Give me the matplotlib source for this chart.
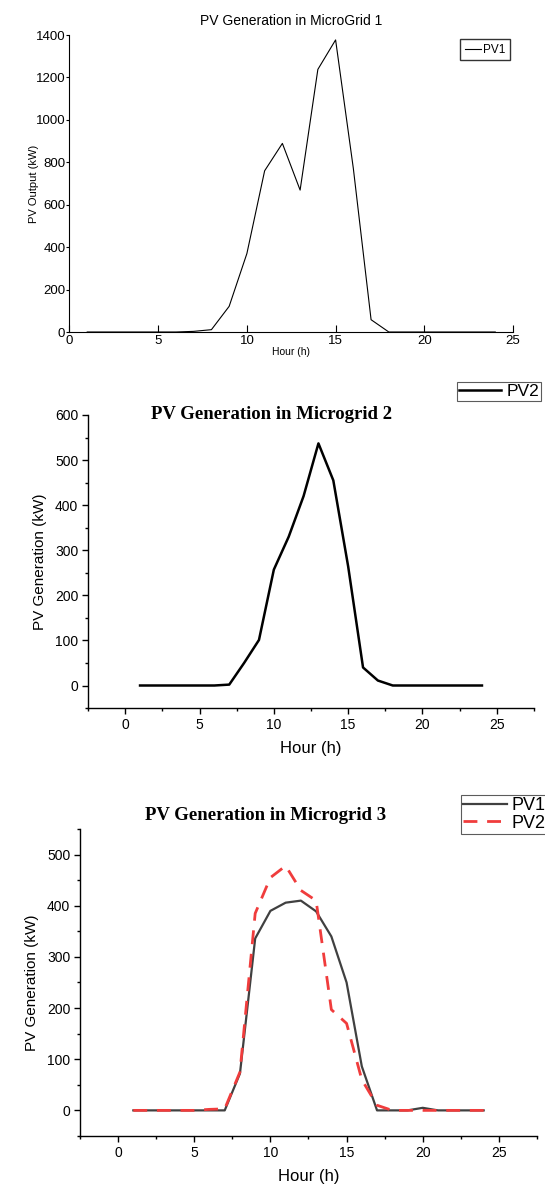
import matplotlib
matplotlib.use("Agg")
import matplotlib.pyplot as plt
from matplotlib.ticker import MultipleLocator

# hours of the day
hours = list(range(1, 25))

# MicroGrid 1
mg1_pv1 = [0, 0, 0, 0, 0, 0, 3, 11, 121, 370, 760, 889,
           669, 1238, 1377, 771, 58, 0, 0, 0, 0, 0, 0, 0]

# Microgrid 2
mg2_pv2 = [0, 0, 0, 0, 0, 0, 2, 50, 101, 257, 330, 420,
           537, 455, 264, 40, 11, 0, 0, 0, 0, 0, 0, 0]

# Microgrid 3
mg3_pv1 = [0, 0, 0, 0, 0, 0, 0, 72, 336, 390, 406, 410,
           389, 340, 250, 86, 0, 0, 0, 5, 0, 0, 0, 0]
mg3_pv2 = [0, 0, 0, 0, 0, 2, 3, 75, 385, 455, 478, 430,
           410, 197, 170, 60, 10, 0, 0, 0, 0, 0, 0, 0]

narrow = ['Liberation Sans Narrow', 'DejaVu Sans Condensed', 'Liberation Sans']
sans = ['Liberation Sans', 'DejaVu Sans']
serif = ['Liberation Serif', 'DejaVu Serif']

fig = plt.figure(figsize=(5.45, 11.87), dpi=100)

# ---------- panel 1 (MATLAB style) ----------
ax1 = fig.add_axes([0.1275, 0.7203, 0.8138, 0.2502])
l1, = ax1.plot(hours, mg1_pv1, color='black', lw=0.8)
ax1.set_xlim(0, 25)
ax1.set_ylim(0, 1400)
ax1.set_xticks(range(0, 26, 5))
ax1.set_yticks(range(0, 1401, 200))
for s in ['top', 'right']:
    ax1.spines[s].set_visible(False)
ax1.tick_params(axis='x', direction='in', length=5, width=0.8, pad=2, labelsize=9.5)
ax1.tick_params(axis='y', direction='out', length=2, width=0.8, pad=1, labelsize=9.5)
for lab in ax1.get_xticklabels() + ax1.get_yticklabels():
    lab.set_family(narrow)
ax1.set_title('PV Generation in MicroGrid 1', family=narrow, fontsize=10, pad=7)
ax1.set_xlabel('Hour (h)', family=narrow, fontsize=7.5, labelpad=0)
ax1.set_ylabel('PV Output (kW)', family=sans, fontsize=8)
ax1.yaxis.set_label_coords(-0.068, 0.5)
fig.legend([l1], ['PV1'], loc='upper right', bbox_to_anchor=(0.9358, 0.9671),
           prop={'family': narrow, 'size': 8.5}, frameon=True, fancybox=False,
           edgecolor='black', handlelength=1.3, handletextpad=0.2,
           borderpad=0.4, borderaxespad=0).get_frame().set_linewidth(1.0)


# ---------- panels 2 and 3 (Origin style) ----------
def origin_axes(ax, ymin, ymax):
    ax.set_xlim(-2.5, 27.5)
    ax.set_ylim(ymin, ymax)
    ax.xaxis.set_major_locator(MultipleLocator(5))
    ax.xaxis.set_minor_locator(MultipleLocator(2.5))
    ax.yaxis.set_major_locator(MultipleLocator(100))
    ax.yaxis.set_minor_locator(MultipleLocator(50))
    for s in ['top', 'right']:
        ax.spines[s].set_visible(False)
    for s in ['left', 'bottom']:
        ax.spines[s].set_linewidth(1.0)
    ax.tick_params(which='major', direction='out', length=4, width=1.0, labelsize=10, pad=3)
    ax.tick_params(which='minor', direction='out', length=2.5, width=1.0)
    for lab in ax.get_xticklabels() + ax.get_yticklabels():
        lab.set_family(sans)
    ax.set_xlabel('Hour (h)', family=sans, fontsize=12, labelpad=7)
    ax.set_ylabel('PV Generation (kW)', family=sans, fontsize=11, labelpad=6)


ax2 = fig.add_axes([0.1615, 0.4035, 0.8183, 0.2469])
l2, = ax2.plot(hours, mg2_pv2, color='black', lw=1.8)
origin_axes(ax2, -50, 600)
fig.text(0.499, 0.6512, 'PV Generation in Microgrid 2', family=serif,
         fontweight='bold', fontsize=13.5, ha='center', va='center')
fig.legend([l2], ['PV2'], loc='upper right', bbox_to_anchor=(0.9927, 0.6782),
           prop={'family': sans, 'size': 12.5}, frameon=True, fancybox=False,
           edgecolor='#333333', handlelength=2.4, handletextpad=0.3,
           borderpad=0.12, borderaxespad=0).get_frame().set_linewidth(0.8)

ax3 = fig.add_axes([0.1468, 0.0430, 0.8385, 0.2586])
l3a, = ax3.plot(hours, mg3_pv1, color='#404040', lw=1.6)
l3b, = ax3.plot(hours, mg3_pv2, color='#f03c3c', lw=2.0, dashes=(5, 3.5))
origin_axes(ax3, -50, 550)
fig.text(0.487, 0.3128, 'PV Generation in Microgrid 3', family=serif,
         fontweight='bold', fontsize=13.5, ha='center', va='center')
fig.legend([l3a, l3b], ['PV1', 'PV2'], loc='upper right', bbox_to_anchor=(1.005, 0.3302),
           prop={'family': sans, 'size': 13}, frameon=True, fancybox=False,
           edgecolor='#333333', handlelength=2.4, handletextpad=0.3,
           borderpad=0.1, labelspacing=0.05, borderaxespad=0).get_frame().set_linewidth(0.8)

fig.savefig('out.png', dpi=100)
